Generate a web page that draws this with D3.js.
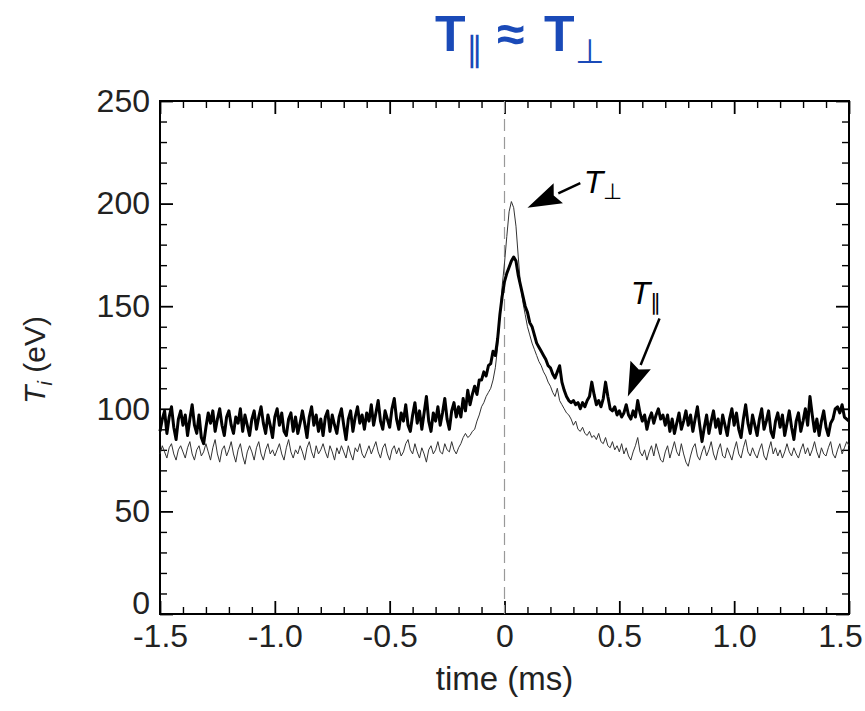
<!DOCTYPE html>
<html>
<head>
<meta charset="utf-8">
<script src="https://cdn.jsdelivr.net/npm/d3@7/dist/d3.min.js"></script>
<style>
  body { margin: 0; background: #fff; }
  text { font-family: "Liberation Sans", Arial, Helvetica, sans-serif; }
</style>
</head>
<body>
<svg width="865" height="711"></svg>
<script>
// Sample grid: one value every 0.01 ms from -1.5 ms to 1.5 ms.
const tStart = -1.5;
const tStep = 0.01;

// T parallel (thick trace), eV (0.1 ms per row).
const tParallel = [
  89, 95, 99, 88, 96, 101, 91, 85, 95, 99,
  92, 97, 87, 95, 102, 92, 88, 97, 86, 83,
  91, 98, 93, 99, 89, 95, 100, 92, 87, 96,
  99, 92, 88, 96, 93, 100, 89, 97, 92, 87,
  95, 99, 90, 96, 101, 93, 88, 97, 92, 86,
  96, 100, 92, 98, 89, 87, 95, 98, 89, 96,
  88, 93, 99, 93, 86, 96, 101, 92, 97, 89,
  95, 87, 96, 99, 89, 97, 92, 88, 96, 100,
  92, 85, 95, 99, 89, 96, 101, 93, 97, 90,
  98, 94, 102, 92, 98, 104, 94, 90, 99, 95,
  91, 100, 105, 95, 90, 98, 94, 102, 92, 89,
  97, 103, 93, 99, 90, 98, 106, 94, 89, 98,
  94, 101, 92, 98, 105, 95, 90, 99, 103, 96,
  101, 96, 105, 99, 109, 102, 107, 111, 107, 114,
  114, 118, 116, 121, 122, 128, 126, 134, 146, 155,
  162, 166, 169, 172, 174, 172, 165, 160, 155, 150,
  147, 142, 140, 136, 132, 130, 128, 126, 124, 121,
  120, 117, 115, 118, 121, 113, 109, 106, 104, 103,
  104, 102, 103, 100, 103, 101, 104, 106, 113, 107,
  102, 104, 101, 105, 113, 106, 100, 99, 101, 97,
  99, 96, 98, 102, 97, 95, 99, 96, 104, 98,
  94, 97, 90, 95, 98, 93, 97, 100, 95, 97,
  92, 97, 89, 95, 88, 93, 98, 90, 94, 99,
  92, 97, 89, 95, 101, 92, 84, 91, 97, 88,
  94, 99, 91, 95, 88, 97, 92, 87, 95, 100,
  92, 98, 90, 86, 95, 102, 93, 88, 97, 92,
  87, 95, 100, 90, 94, 99, 89, 86, 94, 98,
  91, 97, 87, 93, 99, 91, 85, 94, 98, 89,
  94, 100, 92, 106, 97, 89, 95, 87, 94, 99,
  91, 87, 93, 95, 100, 101, 98, 102, 96, 95,
  94
];

// T perpendicular (thin trace), eV.
const tPerp = [
  78, 82, 79, 76, 81, 83, 78, 75, 80, 82,
  79, 76, 81, 84, 78, 75, 80, 82, 77, 79,
  83, 79, 75, 81, 85, 78, 74, 80, 82, 77,
  80, 84, 78, 74, 80, 83, 77, 73, 79, 82,
  79, 75, 81, 84, 78, 75, 80, 83, 78, 80,
  77, 80, 83, 78, 75, 81, 85, 79, 76, 80,
  78, 82, 79, 75, 81, 84, 79, 76, 82, 78,
  80, 83, 79, 76, 82, 79, 75, 81, 78, 82,
  79, 76, 82, 78, 75, 81, 79, 83, 78, 76,
  79, 82, 78, 81, 84, 79, 76, 81, 83, 78,
  75, 80, 82, 78, 81, 77, 79, 83, 85, 80,
  78, 83, 79, 76, 81, 78, 74, 80, 82, 78,
  80, 84, 79, 78, 83, 80, 79, 84, 80, 78,
  81, 83, 86, 88, 86, 87, 89, 90, 94, 97,
  101, 103, 106, 108, 110, 114, 120, 130, 145, 160,
  171, 184, 196, 201, 198, 189, 174, 160, 152, 146,
  140, 136, 132, 129, 126, 123, 121, 118, 116, 113,
  111, 108, 106, 110, 104, 102, 100, 98, 97, 95,
  92, 94, 90, 89, 91, 88, 87, 89, 86, 87,
  85, 88, 84, 83, 86, 82, 81, 84, 80, 82,
  79, 83, 78, 81, 77, 75, 79, 82, 86, 79,
  77, 80, 75, 79, 82, 77, 83, 79, 75, 74,
  79, 82, 76, 80, 84, 79, 77, 83, 78, 74,
  72, 77, 81, 83, 77, 75, 79, 82, 77, 80,
  84, 78, 75, 80, 83, 77, 76, 81, 78, 75,
  80, 84, 78, 76, 81, 85, 79, 77, 81, 78,
  76, 80, 83, 77, 75, 80, 84, 78, 81, 77,
  80, 76, 79, 83, 79, 77, 81, 78, 76, 80,
  83, 78, 81, 77, 80, 84, 79, 76, 81, 78,
  77, 81, 84, 78, 76, 80, 83, 78, 81, 84,
  82
];

const xTicks = [-1.5, -1.0, -0.5, 0, 0.5, 1.0, 1.5];
const xTickLabels = ["-1.5", "-1.0", "-0.5", "0", "0.5", "1.0", "1.5"];
const yTicks = [0, 50, 100, 150, 200, 250];

// Annotation anchors in data units: [time, eV].
const perpLabel = [0.345, 205];
const perpArrow = [[0.33, 210], [0.10, 198]];
const parLabel = [0.55, 151];
const parArrow = [[0.675, 144], [0.537, 106]];

function initGraph() {
  const svg = d3.select("svg");

  const frame = { left: 160, right: 849, top: 101, bottom: 614 };

  const x = d3.scaleLinear().domain([-1.5, 1.5]).range([frame.left, frame.right]);
  const y = d3.scaleLinear().domain([0, 250]).range([frame.bottom, frame.top]);

  return { svg, frame, x, y };
}

function drawAxes(graph) {
  const { svg, frame, x, y } = graph;

  const xMinor = d3.range(-15, 16).map(d => d / 10).filter(d => !xTicks.includes(d));
  const yMinor = d3.range(0, 251, 10).filter(d => !yTicks.includes(d));

  // Ticks point inward on all four sides.
  const defs = [
    [d3.axisBottom(x).tickValues(xTicks).tickSize(-13).tickPadding(10)
      .tickFormat((d, i) => xTickLabels[i]), frame.bottom, "x", 1.8],
    [d3.axisBottom(x).tickValues(xMinor).tickSize(-7).tickFormat(""), frame.bottom, "x", 1.4],
    [d3.axisTop(x).tickValues(xTicks).tickSize(-13).tickFormat(""), frame.top, "x", 1.8],
    [d3.axisTop(x).tickValues(xMinor).tickSize(-7).tickFormat(""), frame.top, "x", 1.4],
    [d3.axisLeft(y).tickValues(yTicks).tickSize(-13).tickPadding(10), frame.left, "y", 1.8],
    [d3.axisLeft(y).tickValues(yMinor).tickSize(-7).tickFormat(""), frame.left, "y", 1.4],
    [d3.axisRight(y).tickValues(yTicks).tickSize(-13).tickFormat(""), frame.right, "y", 1.8],
    [d3.axisRight(y).tickValues(yMinor).tickSize(-7).tickFormat(""), frame.right, "y", 1.4],
  ];

  const groups = defs.map(([axis, pos, dir, w]) => {
    const g = svg.append("g")
      .attr("transform", dir === "x" ? "translate(0," + pos + ")" : "translate(" + pos + ",0)")
      .call(axis.tickSizeOuter(0));
    g.select(".domain").remove();
    g.selectAll("line").attr("stroke", "#000").attr("stroke-width", w);
    g.selectAll("text")
      .attr("fill", "#222")
      .style("font-size", "32px");
    return g;
  });

  // The corner labels are nudged so they stay clear of each other and the edge.
  groups[0].selectAll(".tick text").filter(d => d === 1.5).attr("x", -9);
  groups[4].selectAll(".tick text").filter(d => d === 0).attr("y", -11);

  svg.append("rect")
    .attr("x", frame.left)
    .attr("y", frame.top)
    .attr("width", frame.right - frame.left)
    .attr("height", frame.bottom - frame.top)
    .attr("fill", "none")
    .attr("stroke", "#000")
    .attr("stroke-width", 2);

  // Dashed marker at t = 0.
  svg.append("line")
    .attr("x1", x(0)).attr("x2", x(0))
    .attr("y1", frame.top).attr("y2", frame.bottom)
    .attr("stroke", "#999")
    .attr("stroke-width", 1.2)
    .attr("stroke-dasharray", "12,6");

  svg.append("text")
    .attr("x", (frame.left + frame.right) / 2)
    .attr("y", 690)
    .attr("text-anchor", "middle")
    .style("font-size", "33px")
    .attr("fill", "#222")
    .text("time (ms)");

  const yl = svg.append("text")
    .attr("transform", "translate(45,360) rotate(-90)")
    .attr("text-anchor", "middle")
    .style("font-size", "30px")
    .attr("fill", "#222");
  yl.append("tspan").style("font-style", "italic").text("T");
  yl.append("tspan").style("font-style", "italic").style("font-size", "20px")
    .attr("dy", 7).text("i");
  yl.append("tspan").attr("dy", -7).text(" (eV)");
}

function drawLines(graph) {
  const { svg, x, y } = graph;
  const line = d3.line()
    .x((d, i) => x(tStart + i * tStep))
    .y(d => y(d));

  svg.append("path")
    .datum(tPerp)
    .attr("d", line)
    .attr("fill", "none")
    .attr("stroke", "#333")
    .attr("stroke-width", 1);

  svg.append("path")
    .datum(tParallel)
    .attr("d", line)
    .attr("fill", "none")
    .attr("stroke", "#000")
    .attr("stroke-width", 3)
    .attr("stroke-linejoin", "round");
}

function drawArrow(graph, pts) {
  const { svg, x, y } = graph;
  const [x0, y0] = [x(pts[0][0]), y(pts[0][1])];
  const [x1, y1] = [x(pts[1][0]), y(pts[1][1])];
  const len = Math.hypot(x1 - x0, y1 - y0);
  const ux = (x1 - x0) / len, uy = (y1 - y0) / len;
  const headLen = 34, headHalf = 11;
  const bx = x1 - ux * headLen, by = y1 - uy * headLen;

  svg.append("line")
    .attr("x1", x0).attr("y1", y0)
    .attr("x2", bx).attr("y2", by)
    .attr("stroke", "#000")
    .attr("stroke-width", 2.5);

  svg.append("path")
    .attr("d", "M" + x1 + "," + y1 +
      "L" + (bx - uy * headHalf) + "," + (by + ux * headHalf) +
      "L" + (bx + ux * 5) + "," + (by + uy * 5) +
      "L" + (bx + uy * headHalf) + "," + (by - ux * headHalf) + "Z")
    .attr("fill", "#000");
}

function drawAnnotations(graph) {
  const { svg, x, y } = graph;

  const perp = svg.append("text")
    .attr("x", x(perpLabel[0]))
    .attr("y", y(perpLabel[1]))
    .style("font-size", "32px")
    .attr("fill", "#000");
  perp.append("tspan").style("font-style", "italic").text("T");
  perp.append("tspan").style("font-size", "22px").attr("dy", 6).text("⊥");

  const par = svg.append("text")
    .attr("x", x(parLabel[0]))
    .attr("y", y(parLabel[1]))
    .style("font-size", "32px")
    .attr("fill", "#000");
  par.append("tspan").style("font-style", "italic").text("T");
  par.append("tspan").style("font-size", "22px").attr("dy", 6).text("∥");

  drawArrow(graph, perpArrow);
  drawArrow(graph, parArrow);

  // Blue heading.
  const title = svg.append("text")
    .attr("y", 51)
    .style("font-size", "50px")
    .style("font-weight", "bold")
    .attr("fill", "#1a4ab8");
  title.append("tspan").attr("x", 435).text("T");
  title.append("tspan").style("font-size", "34px").style("font-weight", "normal")
    .attr("dy", 10).text("∥");
  title.append("tspan").attr("x", 497).attr("dy", -10).text("≈");
  title.append("tspan").attr("x", 544).text("T");
  title.append("tspan").style("font-size", "34px").style("font-weight", "normal")
    .attr("dy", 12).text("⊥");
}

window.addEventListener("load", function() {
  const graph = initGraph();
  drawAxes(graph);
  drawLines(graph);
  drawAnnotations(graph);
});
</script>
</body>
</html>
